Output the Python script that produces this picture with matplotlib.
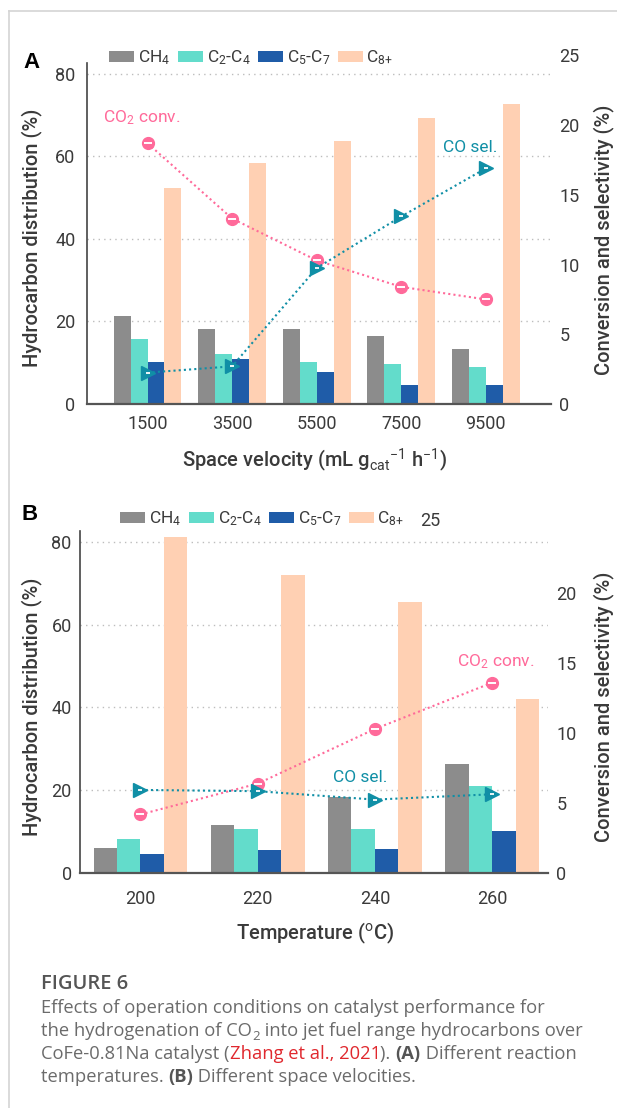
import matplotlib
matplotlib.use("Agg")
import matplotlib.pyplot as plt
from matplotlib.lines import Line2D
import numpy as np

W, H = 617, 1108

plt.rcParams['font.family'] = ['Roboto', 'DejaVu Sans']
plt.rcParams['mathtext.fontset'] = 'custom'
plt.rcParams['mathtext.rm'] = 'Roboto'
plt.rcParams['mathtext.it'] = 'Roboto:italic'
plt.rcParams['mathtext.bf'] = 'Roboto:bold'


def fx(x):
    return x / W


def fy(y):
    return 1 - y / H


# Panel A - space velocity
sv_labels = ['1500', '3500', '5500', '7500', '9500']
sv_ch4 = [21.3, 18.3, 18.1, 16.4, 13.3]
sv_c2c4 = [15.8, 12.2, 10.2, 9.7, 9.0]
sv_c5c7 = [10.3, 10.8, 7.7, 4.6, 4.6]
sv_c8 = [52.3, 58.3, 63.8, 69.3, 72.7]
sv_co2_conv = [18.7, 13.3, 10.3, 8.4, 7.5]
sv_co_sel = [2.25, 2.7, 9.75, 13.45, 16.9]

# Panel B - temperature
temp_labels = ['200', '220', '240', '260']
t_ch4 = [6.0, 11.7, 18.3, 26.4]
t_c2c4 = [8.3, 10.8, 10.6, 21.1]
t_c5c7 = [4.6, 5.5, 5.9, 10.3]
t_c8 = [81.2, 72.0, 65.4, 42.0]
t_co2_conv = [4.2, 6.4, 10.3, 13.6]
t_co_sel = [5.95, 5.86, 5.26, 5.64]

series_names = ['CH$_4$', 'C$_2$-C$_4$', 'C$_5$-C$_7$', 'C$_{8{+}}$']
bar_colors = ['#8c8c8c', '#63dccb', '#1f5ca8', '#ffd0b3']
pink = '#ff6a9a'
teal = '#108fa6'
txt_col = '#3a3a3a'

fig = plt.figure(figsize=(W / 100, H / 100), dpi=100)

# page border
fig.add_artist(Line2D([fx(9), fx(9)], [fy(11), 0], color='#d4d4d4', lw=1.2))
fig.add_artist(Line2D([fx(9), 1], [fy(11), fy(11)], color='#d4d4d4', lw=1.2))


def panel(px_left, px_right, px_top, px_bottom, labels, bars, conv, sel,
          xlim, spine_top, xpad, ypad):
    ax = fig.add_axes([fx(px_left), fy(px_bottom), (px_right - px_left) / W,
                       (px_bottom - px_top) / H])
    x = np.arange(len(labels))
    w = 0.2
    for i, (vals, c) in enumerate(zip(bars, bar_colors)):
        ax.bar(x + (i - 1.5) * w, vals, w, color=c, label=series_names[i], zorder=2)
    ax.set_xlim(*xlim)
    ax.set_ylim(0, 84.5)
    ax.set_yticks([0, 20, 40, 60, 80])
    ax.set_xticks(x, labels)
    for v in [20, 40, 60, 80]:
        ax.axhline(v, color='#bdbdbd', lw=1, ls=(0, (1, 3)), zorder=0)
    for s in ['top', 'right']:
        ax.spines[s].set_visible(False)
    ax.spines['left'].set_bounds(0, spine_top)
    ax.spines['left'].set_color('#444444')
    ax.spines['left'].set_linewidth(1.2)
    ax.spines['bottom'].set_color('#555555')
    ax.spines['bottom'].set_linewidth(1.6)
    ax.tick_params(axis='both', length=0, labelsize=13, labelcolor=txt_col)
    ax.tick_params(axis='x', pad=xpad)
    ax.tick_params(axis='y', pad=ypad)

    ax2 = ax.twinx()
    ax2.set_ylim(0, 25)
    ax2.set_yticks([0, 5, 10, 15, 20, 25])
    for s in ax2.spines.values():
        s.set_visible(False)
    ax2.tick_params(axis='y', length=0, labelsize=13, labelcolor=txt_col, pad=6)

    ax2.plot(x, conv, color=pink, lw=1.5, ls=(0, (1, 1.5)), marker='o', ms=8.5,
             mfc=pink, mec=pink, zorder=3)
    ax2.plot(x, conv, ls='none', marker='_', ms=5.5, mew=1.4, color='white', zorder=4)
    ax2.plot(x, sel, color=teal, lw=1.5, ls=(0, (1, 1.5)), marker='>', ms=9.5,
             mfc=teal, mec=teal, zorder=3)
    ax2.plot(x, sel, ls='none', marker='_', ms=3.5, mew=1.3, color='white', zorder=4)
    return ax, ax2


leg_kw = dict(bbox_transform=fig.transFigure, ncol=4, frameon=False, fontsize=12.5,
              handlelength=1.45, handleheight=0.55, handletextpad=0.2,
              columnspacing=0.45, borderpad=0, borderaxespad=0, labelcolor=txt_col,
              loc='center left')

# ---------------- panel A ----------------
axA, axA2 = panel(86.6, 551, 55.4, 404, sv_labels,
                  [sv_ch4, sv_c2c4, sv_c5c7, sv_c8], sv_co2_conv, sv_co_sel,
                  (-0.72, 4.77), 82.7, 8, 8)
axA.legend(bbox_to_anchor=(fx(109), fy(58)), **leg_kw)
fig.text(fx(142), fy(118), 'CO$_2$ conv.', color=pink, fontsize=12.5, ha='center', va='center')
fig.text(fx(470), fy(148), 'CO sel.', color=teal, fontsize=12.5, ha='center', va='center')
fig.text(fx(31.5), fy(62), 'A', fontsize=16, fontweight='bold', family='Liberation Sans',
         ha='center', va='center', color='black')
fig.text(fx(31.5), fy(238), 'Hydrocarbon distribution (%)', rotation=90, fontsize=14.5,
         fontweight='medium', color=txt_col, ha='center', va='center')
fig.text(fx(604), fy(240), 'Conversion and selectivity (%)', rotation=90, fontsize=14.5,
         fontweight='medium', color=txt_col, ha='center', va='center')
fig.text(fx(315), fy(460), 'Space velocity (mL g$_{\\rm cat}$$^{-1}$ h$^{-1}$)', fontsize=14.5,
         fontweight='medium', color=txt_col, ha='center', va='center')

# ---------------- panel B ----------------
axB, axB2 = panel(80, 548, 523, 873.3, temp_labels,
                  [t_ch4, t_c2c4, t_c5c7, t_c8], t_co2_conv, t_co_sel,
                  (-0.516, 3.477), 82.5, 12, 6)
axB2.set_yticks([0, 5, 10, 15, 20])
axB.legend(bbox_to_anchor=(fx(120), fy(519)), **leg_kw)
fig.text(fx(430), fy(521), '25', fontsize=13, color=txt_col, ha='center', va='center')
fig.text(fx(496), fy(662), 'CO$_2$ conv.', color=pink, fontsize=12.5, ha='center', va='center')
fig.text(fx(360), fy(778), 'CO sel.', color=teal, fontsize=12.5, ha='center', va='center')
fig.text(fx(29.5), fy(515), 'B', fontsize=16, fontweight='bold', family='Liberation Sans',
         ha='center', va='center', color='black')
fig.text(fx(31.5), fy(707), 'Hydrocarbon distribution (%)', rotation=90, fontsize=14.5,
         fontweight='medium', color=txt_col, ha='center', va='center')
fig.text(fx(604), fy(707), 'Conversion and selectivity (%)', rotation=90, fontsize=14.5,
         fontweight='medium', color=txt_col, ha='center', va='center')
fig.text(fx(315), fy(933), 'Temperature ($^{\\rm o}$C)', fontsize=14.5,
         fontweight='medium', color=txt_col, ha='center', va='center')

# ---------------- caption ----------------
renderer = fig.canvas.get_renderer()
cap_col = '#6b6b6b'
cap_font = ['Open Sans', 'DejaVu Sans']
cap_size = 13.2


def piece_width(txt, **kw):
    t1 = fig.text(0, 0, '|' + txt + '|', **kw)
    t2 = fig.text(0, 0, '||', **kw)
    wdt = t1.get_window_extent(renderer).width - t2.get_window_extent(renderer).width
    t1.remove()
    t2.remove()
    return wdt


def rich_line(x, y, pieces):
    for txt, kw in pieces:
        kw = dict(kw)
        dy = kw.pop('dy', 0)
        style = dict(family=cap_font, fontsize=cap_size, color=cap_col)
        style.update(kw)
        fig.text(fx(x), fy(y + dy), txt, va='baseline', ha='left', **style)
        x += piece_width(txt, **style)


fig.text(fx(41), fy(989), 'FIGURE 6', family=cap_font, fontsize=14.5,
         fontweight='semibold', color='#555555', va='baseline')
bold = dict(fontweight='bold', color='#555555')
rich_line(41, 1013, [('Effects of operation conditions on catalyst performance for', {})])
rich_line(41, 1036, [('the hydrogenation of CO', {}), ('2', dict(fontsize=9.5, dy=4)),
                     (' into jet fuel range hydrocarbons over', {})])
rich_line(41, 1059, [('CoFe-0.81Na catalyst (', {}), ('Zhang et al., 2021', dict(color='#e0282e')),
                     ('). ', {}), ('(A)', bold), (' Different reaction', {})])
rich_line(41, 1082, [('temperatures. ', {}), ('(B)', bold), (' Different space velocities.', {})])

fig.savefig('out.png', dpi=100)
